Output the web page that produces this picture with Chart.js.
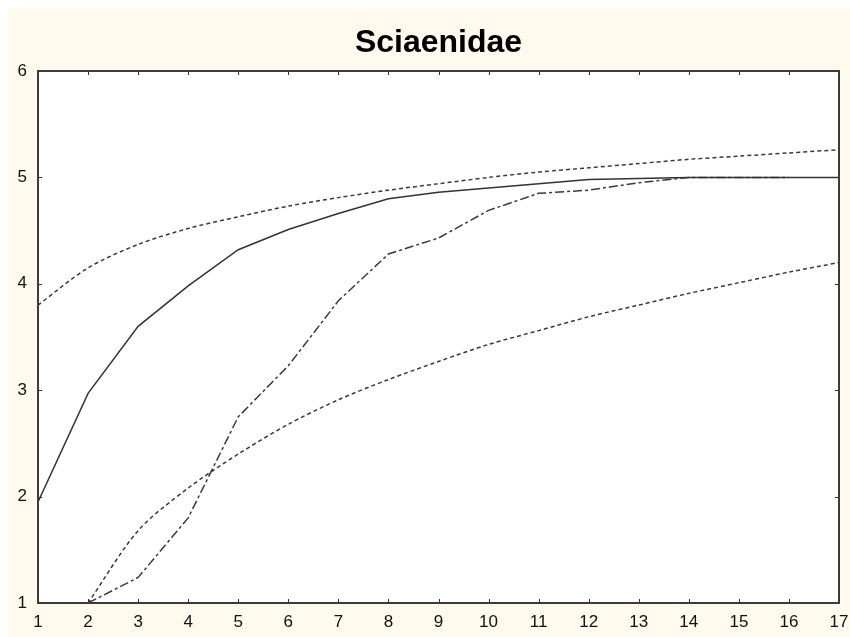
<!DOCTYPE html>
<html>
<head>
<meta charset="utf-8">
<script src="https://cdn.jsdelivr.net/npm/chart.js@4.4.1/dist/chart.umd.min.js"></script>
<style>
  html, body { margin: 0; padding: 0; background: #fff; }
  #wrap { width: 850px; height: 637px; }
</style>
</head>
<body>
<div id="wrap"><canvas id="chart" width="850" height="637"></canvas></div>
<script>
// x positions 1..17
const xValues = [1, 2, 3, 4, 5, 6, 7, 8, 9, 10, 11, 12, 13, 14, 15, 16, 17];

// solid curve
const solidValues = [1.95, 2.97, 3.60, 3.98, 4.32, 4.51, 4.66, 4.80, 4.86, 4.90, 4.94, 4.98, 4.99, 5.0, 5.0, 5.0, 5.0];
// upper dotted curve
const upperValues = [3.80, 4.15, 4.37, 4.52, 4.63, 4.73, 4.81, 4.88, 4.94, 5.00, 5.05, 5.09, 5.13, 5.17, 5.20, 5.23, 5.26];
// lower dotted curve (starts at x = 2)
const lowerValues = [null, 1.0, 1.68, 2.08, 2.40, 2.68, 2.91, 3.10, 3.27, 3.43, 3.56, 3.69, 3.80, 3.91, 4.01, 4.11, 4.20];
// dash-dot curve (starts at x = 2, ends at x = 16)
const dashDotValues = [null, 1.0, 1.24, 1.80, 2.75, 3.23, 3.84, 4.28, 4.43, 4.69, 4.85, 4.88, 4.95, 5.0, 5.0, 5.0, null];

const yTicks = [1, 2, 3, 4, 5, 6];

function toPoints(vals) {
    return xValues.map((x, i) => ({ x: x, y: vals[i] }));
}

const lineColor = '#3a3a3a';
const labelFont = { family: 'Liberation Sans, Arial, sans-serif', size: 17 };

// background, frame and inward ticks
const frame = {
    id: 'frame',
    beforeDraw(chart) {
        const ctx = chart.ctx;
        const a = chart.chartArea;
        ctx.save();
        ctx.fillStyle = '#ffffff';
        ctx.fillRect(0, 0, chart.width, chart.height);
        ctx.fillStyle = '#fff9ee';
        ctx.fillRect(9, 9, chart.width - 9, chart.height - 9);
        ctx.fillStyle = '#ffffff';
        ctx.fillRect(a.left, a.top, a.right - a.left, a.bottom - a.top);
        ctx.restore();
    },
    afterDatasetsDraw(chart) {
        const ctx = chart.ctx;
        const a = chart.chartArea;
        const xs = chart.scales.x;
        const ys = chart.scales.y;
        ctx.save();
        ctx.strokeStyle = '#333';
        ctx.lineWidth = 1;
        ctx.beginPath();
        for (const v of xValues) {
            const px = Math.round(xs.getPixelForValue(v)) + 0.5;
            ctx.moveTo(px, a.top); ctx.lineTo(px, a.top + 4);
            ctx.moveTo(px, a.bottom); ctx.lineTo(px, a.bottom - 4);
        }
        for (const v of yTicks) {
            const py = Math.round(ys.getPixelForValue(v)) + 0.5;
            ctx.moveTo(a.left, py); ctx.lineTo(a.left + 4, py);
            ctx.moveTo(a.right, py); ctx.lineTo(a.right - 4, py);
        }
        ctx.stroke();
        ctx.lineWidth = 2;
        ctx.strokeStyle = '#3c3c3c';
        ctx.strokeRect(a.left, a.top, a.right - a.left, a.bottom - a.top);
        ctx.restore();
    }
};

const ctx = document.getElementById('chart').getContext('2d');
const chart = new Chart(ctx, {
    type: 'line',
    data: {
        datasets: [
            {
                data: toPoints(upperValues),
                borderColor: lineColor,
                borderWidth: 1.5,
                borderDash: [4, 3],
                pointRadius: 0,
                tension: 0.3
            },
            {
                data: toPoints(solidValues),
                borderColor: '#333',
                borderWidth: 1.5,
                pointRadius: 0,
                tension: 0
            },
            {
                data: toPoints(dashDotValues),
                borderColor: lineColor,
                borderWidth: 1.5,
                borderDash: [9, 3, 3, 3],
                pointRadius: 0,
                tension: 0,
                spanGaps: false
            },
            {
                data: toPoints(lowerValues),
                borderColor: lineColor,
                borderWidth: 1.5,
                borderDash: [4, 3],
                pointRadius: 0,
                tension: 0.3
            }
        ]
    },
    plugins: [frame],
    options: {
        responsive: false,
        animation: false,
        layout: {
            padding: { left: 0, right: 11, top: 0, bottom: 0 }
        },
        plugins: {
            legend: { display: false },
            tooltip: { enabled: false },
            title: {
                display: true,
                text: 'Sciaenidae',
                fullSize: false,
                color: '#000',
                font: { family: 'Liberation Sans, Arial, sans-serif', size: 32, weight: 'bold' },
                padding: { top: 24, bottom: 8.6 }
            }
        },
        scales: {
            x: {
                type: 'linear',
                min: 1,
                max: 17,
                grid: { display: false, drawTicks: false },
                border: { display: false },
                ticks: {
                    stepSize: 1,
                    padding: 9,
                    color: '#111',
                    font: labelFont
                },
                afterFit(scale) {
                    scale.height = 34;
                    scale.paddingLeft = 0;
                    scale.paddingRight = 0;
                }
            },
            y: {
                type: 'linear',
                min: 1,
                max: 6,
                grid: { display: false, drawTicks: false },
                border: { display: false },
                ticks: {
                    stepSize: 1,
                    padding: 11,
                    color: '#111',
                    font: labelFont
                },
                afterFit(scale) {
                    scale.width = 38;
                    scale.paddingTop = 0;
                    scale.paddingBottom = 0;
                }
            }
        }
    }
});
</script>
</body>
</html>
